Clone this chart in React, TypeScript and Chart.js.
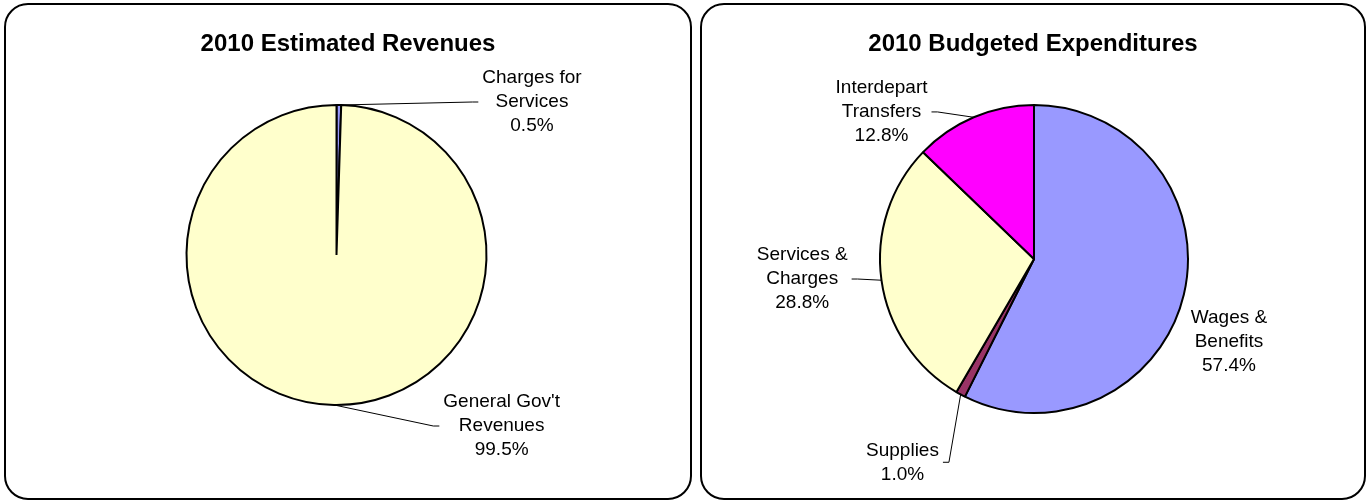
import React, { useEffect, useRef } from "react";
import { Chart, registerables } from "chart.js";

Chart.register(...registerables);

const FONT = "'Liberation Sans', Arial, Helvetica, sans-serif";

// ---- Data ----
const revenueTitle = "2010 Estimated Revenues";
const revenueCategories = ["Charges for\nServices", "General Gov't\nRevenues"];
const revenueValues = [0.5, 99.5];
const revenueColors = ["#9999FF", "#FFFFCC"];

const expenseTitle = "2010 Budgeted Expenditures";
const expenseCategories = ["Wages &\nBenefits", "Supplies", "Services &\nCharges", "Interdepart\nTransfers"];
const expenseValues = [57.4, 1.0, 28.8, 12.8];
const expenseColors = ["#9999FF", "#993366", "#FFFFCC", "#FF00FF"];

// ---- Label layout (relative to pie centre, in radius units) ----
const revenueLabelDx = [1.303, 1.101];
const revenueLabelDy = [-1.02, 1.14];
const revenueLeader = [true, true];

const expenseLabelDx = [1.266, -0.854, -1.505, -0.990];
const expenseLabelDy = [0.539, 1.32, 0.13, -0.955];
const expenseLeader = [false, true, true, true];

const labelPlugin = {
  id: "pieLabels",
  afterDatasetsDraw(chart: any, _args: any, opts: any) {
    const ctx = chart.ctx as CanvasRenderingContext2D;
    const meta = chart.getDatasetMeta(0);
    const values = chart.data.datasets[0].data as number[];
    const total = values.reduce((a, b) => a + b, 0);
    ctx.save();
    ctx.fillStyle = "#000";
    ctx.strokeStyle = "#000";
    ctx.lineWidth = 1;
    ctx.textAlign = "center";
    ctx.textBaseline = "middle";
    ctx.font = `19px ${FONT}`;
    meta.data.forEach((arc: any, i: number) => {
      const p = arc.getProps(["x", "y", "startAngle", "endAngle", "outerRadius"], true);
      const mid = (p.startAngle + p.endAngle) / 2;
      const ax = p.x + Math.cos(mid) * p.outerRadius;
      const ay = p.y + Math.sin(mid) * p.outerRadius;
      const cx = p.x + opts.dx[i] * p.outerRadius;
      const cy = p.y + opts.dy[i] * p.outerRadius;
      const lines = [
        ...String(chart.data.labels[i]).split("\n"),
        ((values[i] / total) * 100).toFixed(1) + "%",
      ];
      const w = Math.max(...lines.map((l) => ctx.measureText(l).width));
      const lh = 24;
      lines.forEach((l, k) => {
        ctx.fillText(l, cx, cy + (k - (lines.length - 1) / 2) * lh);
      });
      if (opts.leader[i]) {
        const right = cx > ax;
        const ex = right ? cx - w / 2 - 4 : cx + w / 2 + 4;
        const elx = right ? ex - 6 : ex + 6;
        ctx.beginPath();
        ctx.moveTo(ax, ay);
        ctx.lineTo(elx, cy);
        ctx.lineTo(ex, cy);
        ctx.stroke();
      }
    });
    ctx.font = `bold 24px ${FONT}`;
    ctx.fillText(opts.title, chart.width / 2, opts.titleY);
    ctx.restore();
  },
};

type PanelProps = {
  left: number;
  top: number;
  width: number;
  height: number;
  title: string;
  categories: string[];
  values: number[];
  colors: string[];
  radius: number;
  padding: { left: number; right: number; top: number; bottom: number };
  dx: number[];
  dy: number[];
  leader: boolean[];
};

function PiePanel(props: PanelProps) {
  const ref = useRef<HTMLCanvasElement | null>(null);
  useEffect(() => {
    if (!ref.current) return;
    const chart = new Chart(ref.current, {
      type: "pie",
      data: {
        labels: props.categories,
        datasets: [
          {
            data: props.values,
            backgroundColor: props.colors,
            borderColor: "#000",
            borderWidth: 2,
          },
        ],
      },
      options: {
        responsive: false,
        animation: false,
        radius: props.radius,
        layout: { padding: props.padding },
        plugins: {
          legend: { display: false },
          tooltip: { enabled: false },
          title: { display: false },
          pieLabels: {
            title: props.title,
            titleY: 41,
            dx: props.dx,
            dy: props.dy,
            leader: props.leader,
          },
        } as any,
      } as any,
      plugins: [labelPlugin],
    });
    return () => chart.destroy();
  }, []);
  return (
    <>
      <div
        style={{
          position: "absolute",
          left: props.left,
          top: props.top,
          width: props.width,
          height: props.height,
          border: "2px solid #000",
          borderRadius: 24,
          boxSizing: "border-box",
          background: "#fff",
        }}
      />
      <canvas
        ref={ref}
        width={props.width}
        height={props.height}
        style={{ position: "absolute", left: props.left, top: props.top }}
      />
    </>
  );
}

export default function App() {
  return (
    <div
      style={{
        position: "fixed",
        left: 0,
        top: 0,
        width: 1367,
        height: 503,
        background: "#fff",
        overflow: "hidden",
      }}
    >
      <PiePanel
        left={4}
        top={3}
        width={688}
        height={497}
        title={revenueTitle}
        categories={revenueCategories}
        values={revenueValues}
        colors={revenueColors}
        radius={150}
        padding={{ left: 0, right: 23, top: 7, bottom: 0 }}
        dx={revenueLabelDx}
        dy={revenueLabelDy}
        leader={revenueLeader}
      />
      <PiePanel
        left={700}
        top={3}
        width={666}
        height={497}
        title={expenseTitle}
        categories={expenseCategories}
        values={expenseValues}
        colors={expenseColors}
        radius={154}
        padding={{ left: 2, right: 0, top: 15, bottom: 0 }}
        dx={expenseLabelDx}
        dy={expenseLabelDy}
        leader={expenseLeader}
      />
    </div>
  );
}
